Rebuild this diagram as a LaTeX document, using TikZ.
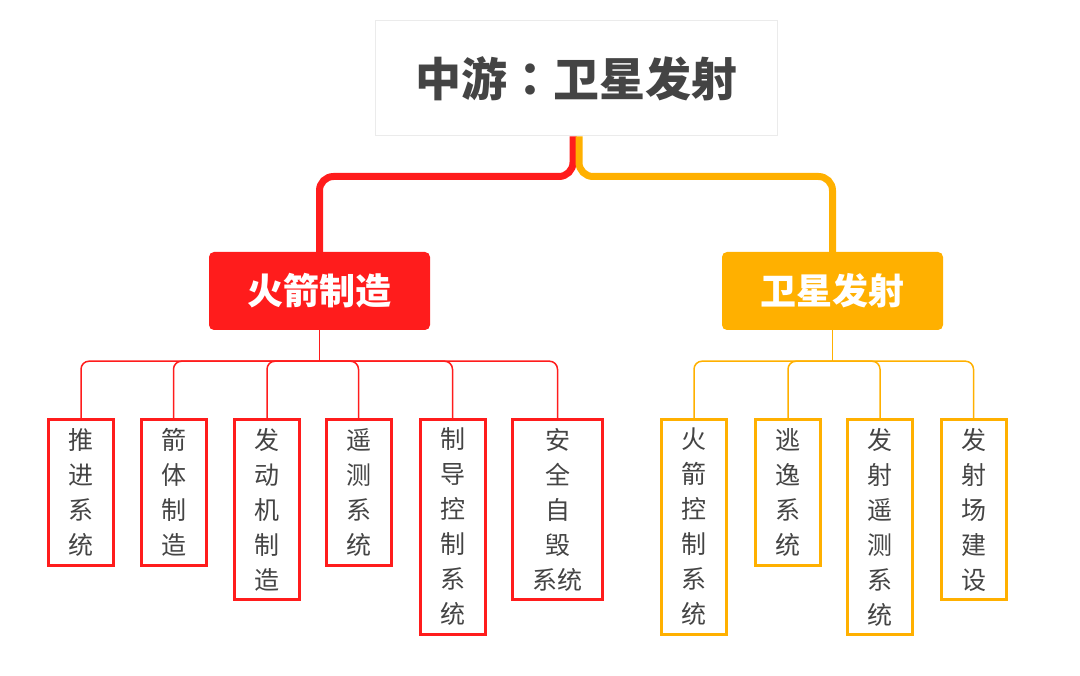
\documentclass[tikz,border=0pt]{standalone}
\usepackage{fontspec}
\usetikzlibrary{calc}
\newfontfamily\cjk{Noto Sans CJK SC}
\newfontfamily\cjktc{Noto Sans CJK TC}
\definecolor{rkred}{HTML}{FF1C1C}
\definecolor{sforange}{HTML}{FFB000}
\definecolor{txtgray}{HTML}{444444}

\begin{document}
\begin{tikzpicture}[x=1pt,y=-1pt,
    sub/.style={draw,line width=3pt,minimum width=65pt,inner sep=2pt,align=center,
      anchor=north,text=txtgray,font=\cjk\fontsize{25}{35}\selectfont},
    head/.style={fill,rounded corners=5pt,minimum width=221pt,minimum height=78pt,
      text=white,font=\cjk\bfseries\fontsize{36}{40}\selectfont},
    link/.style={line width=1.5pt,rounded corners=8pt}]
      \useasboundingbox (0,0) rectangle (1080,676);

      % top levels
      \node[draw=black!4,line width=6pt,minimum width=396pt,minimum height=109pt] (glow) at (576,78.5) {};
      \node[draw=black!8,line width=1pt,fill=white,minimum width=402pt,minimum height=115pt,
        text=txtgray,font=\cjk\bfseries\fontsize{46}{50}\selectfont] (root) at (576,78.5) {中游{\cjktc\bfseries ：}卫星发射};
      \node[head,fill=rkred] (rk) at (319.5,291) {火箭制造};
      \node[head,fill=sforange] (sf) at (832.5,291) {卫星发射};

      \draw[rkred,line width=7pt,rounded corners=14pt] ([xshift=-3pt]root.south) -- ++(0,40) -| (rk.north);
      \draw[sforange,line width=7pt,rounded corners=14pt] ([xshift=3pt]root.south) -- ++(0,40) -| (sf.north);

      % rocket side
      \node[sub,draw=rkred,minimum height=145pt] (r1) at (81,418.5) {推\\进\\系\\统};
      \node[sub,draw=rkred,minimum height=145pt] (r2) at (173.5,418.5) {箭\\体\\制\\造};
      \node[sub,draw=rkred,minimum height=179pt] (r3) at (267,418.5) {发\\动\\机\\制\\造};
      \node[sub,draw=rkred,minimum height=145pt] (r4) at (358.5,418.5) {遥\\测\\系\\统};
      \node[sub,draw=rkred,minimum height=214pt] (r5) at (452.5,418.5) {制\\导\\控\\制\\系\\统};
      \node[sub,draw=rkred,minimum height=179pt,minimum width=90pt] (r6) at (557.5,418.5) {安\\全\\自\\毁\\系统};

      \coordinate (rkbar) at ($(rk.south)+(0,31)$);
      \draw[link,rkred] (rk.south) -- (rkbar);
      \foreach \c in {r1,r2,r3,r4,r5,r6}
        \draw[link,rkred] (rkbar) -| ([yshift=-1.5pt]\c.north);

      % launch side
      \node[sub,draw=sforange,minimum height=214pt] (s1) at (694,418.5) {火\\箭\\控\\制\\系\\统};
      \node[sub,draw=sforange,minimum height=145pt] (s2) at (788,418.5) {逃\\逸\\系\\统};
      \node[sub,draw=sforange,minimum height=214pt] (s3) at (880,418.5) {发\\射\\遥\\测\\系\\统};
      \node[sub,draw=sforange,minimum height=179pt] (s4) at (973.5,418.5) {发\\射\\场\\建\\设};

      \coordinate (sfbar) at ($(sf.south)+(0,31)$);
      \draw[link,sforange] (sf.south) -- (sfbar);
      \foreach \c in {s1,s2,s3,s4}
        \draw[link,sforange] (sfbar) -| ([yshift=-1.5pt]\c.north);
    \end{tikzpicture}
\end{document}
